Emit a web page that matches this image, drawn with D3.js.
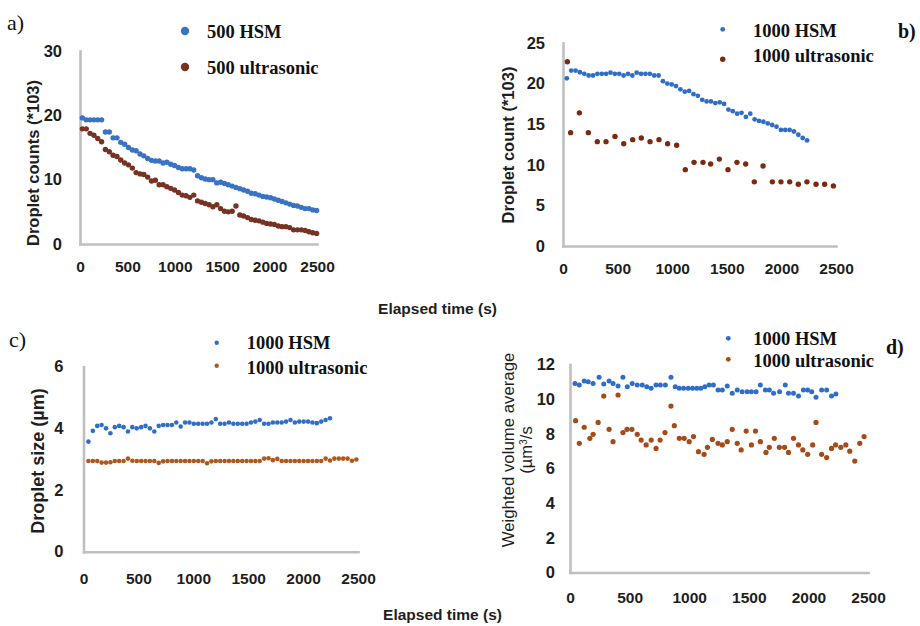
<!DOCTYPE html>
<html><head><meta charset="utf-8">
<script src="https://cdn.jsdelivr.net/npm/d3@7"></script>
<style>body{margin:0;background:#fff}svg{display:block}</style>
</head><body><svg id="chart" width="920" height="626"></svg>
<script>
// ---------- data ----------
const xTicks = [0, 500, 1000, 1500, 2000, 2500];

// panel a
const aTime = [25,66,106,147,187,228,268,309,349,390,430,471,511,552,592,633,673,714,754,795,835,876,916,957,997,1038,1078,1119,1159,1200,1240,1281,1321,1362,1402,1443,1483,1524,1564,1605,1645,1686,1726,1767,1807,1848,1888,1929,1969,2010,2050,2091,2131,2172,2212,2253,2293,2334,2374,2415,2455,2496];
const aHSM = [19.6,19.3,19.3,19.3,19.3,19.3,17.4,17.4,16.5,16.5,
  15.8,15.5,15.0,14.6,14.5,14.0,13.7,13.3,13.0,12.9,
  12.9,12.6,12.7,12.4,12.2,11.9,11.7,11.7,11.7,11.5,
  10.6,10.3,10.1,10.0,10.0,9.5,9.6,9.4,9.2,9.0,
  8.8,8.6,8.4,8.2,7.9,7.8,7.6,7.4,7.3,7.2,
  7.0,6.8,6.6,6.4,6.2,6.0,5.9,5.7,5.5,5.5,5.3,5.2];
const aUltra = [17.9,17.9,17.2,16.9,16.4,15.9,14.7,14.35,13.8,13.6,
  13.05,12.6,12.3,11.8,11.1,10.9,10.8,10.4,9.8,9.9,
  9.2,9.2,8.9,8.65,8.4,8.0,7.6,7.5,7.25,7.6,
  6.7,6.5,6.3,6.1,5.8,6.1,5.5,5.1,5.0,5.1,
  5.9,4.5,4.35,4.1,3.8,3.7,3.6,3.4,3.2,3.1,
  3.05,2.8,2.7,2.7,2.55,2.2,2.2,2.2,2.1,1.9,1.75,1.65];
const aYTicks = [0, 10, 20, 30];

// panel b
const bHSMTime = [35,75,115,155,195,235,275,315,355,395,435,475,515,555,595,635,675,715,755,795,835,875,915,955,995,1035,1075,1115,1155,1195,1235,1275,1315,1355,1395,1435,1475,1515,1555,1595,1635,1675,1715,1755,1795,1835,1875,1915,1955,1995,2035,2075,2115,2155,2195,2235];
const bHSM = [20.65,21.6,21.6,21.4,21.2,21.0,21.0,21.2,21.2,21.2,
  21.35,21.2,21.2,21.0,21.2,21.0,21.35,21.2,21.2,21.2,
  21.0,21.0,20.3,20.0,19.9,19.7,19.3,19.0,19.1,18.7,
  18.5,18.0,17.8,17.8,17.6,17.7,17.5,16.8,16.6,16.3,
  16.4,15.9,16.3,15.6,15.4,15.3,15.1,14.9,14.7,14.3,
  14.3,14.3,14.1,13.7,13.3,13.0];
const bUltraTime = [40,70,150,232,314,394,476,556,638,717,797,879,958,1041,1120,1200,1282,1352,1432,1511,1593,1673,1752,1832,1917,1996,2076,2155,2234,2317,2396,2476];
const bUltra = [22.7,13.96,16.4,13.96,12.85,12.85,13.5,12.6,13.1,13.3,
  12.85,13.1,12.6,12.4,9.4,10.3,10.3,10.1,10.7,9.4,
  10.3,10.1,7.9,9.85,7.9,7.9,7.9,7.6,7.9,7.6,7.6,7.4];
const bYTicks = [0, 5, 10, 15, 20, 25];

// panel c
const cHSMTime = [45,85,125,165,205,245,285,325,365,405,445,485,525,565,605,645,685,725,765,805,845,885,925,965,1005,1045,1085,1125,1165,1205,1245,1285,1325,1365,1405,1445,1485,1525,1565,1605,1645,1685,1725,1765,1805,1845,1885,1925,1965,2005,2045,2085,2125,2165,2205,2245];
const cHSM = [3.57,3.92,4.08,4.11,4.00,3.84,4.04,4.08,4.04,3.90,
  4.04,4.00,4.04,4.08,4.00,3.90,4.08,4.11,4.11,4.11,
  4.19,4.06,4.19,4.19,4.15,4.15,4.15,4.15,4.19,4.30,
  4.15,4.15,4.19,4.15,4.15,4.15,4.15,4.19,4.22,4.27,
  4.15,4.15,4.19,4.19,4.19,4.22,4.27,4.19,4.22,4.22,
  4.22,4.19,4.17,4.22,4.27,4.33];
const cUltraTime = [45,85,125,165,205,245,285,325,365,405,445,485,525,565,605,645,685,725,765,805,845,885,925,965,1005,1045,1085,1125,1165,1205,1245,1285,1325,1365,1405,1445,1485,1525,1565,1605,1645,1685,1725,1765,1805,1845,1885,1925,1965,2005,2045,2085,2125,2165,2205,2245,2285,2325,2365,2405,2445,2485];
const cUltra = [2.94,2.94,2.94,2.89,2.89,2.90,2.94,2.94,2.94,3.02,
  2.95,2.94,2.94,2.94,2.94,2.94,2.88,2.93,2.94,2.94,
  2.94,2.94,2.94,2.94,2.94,2.94,2.94,2.87,2.93,2.94,
  2.94,2.94,2.94,2.94,2.94,2.94,2.94,2.94,2.94,2.94,
  3.02,3.03,2.97,3.01,2.94,2.94,2.94,2.94,2.94,2.94,
  2.94,2.94,2.94,2.94,3.02,2.96,3.02,3.02,3.02,3.02,
  2.95,2.99];
const cYTicks = [0, 2, 4, 6];

// panel d
const dHSMTime = [42,78,119,153,194,244,283,328,361,403,444,481,522,564,606,644,681,722,758,800,847,883,917,953,992,1028,1064,1097,1131,1167,1203,1242,1278,1319,1361,1403,1444,1486,1522,1561,1597,1639,1672,1708,1758,1806,1833,1875,1917,1958,1994,2028,2064,2111,2153,2194,2231];
const dHSM = [10.91,10.82,11.05,11.01,10.91,11.26,10.88,11.05,10.91,10.76,
  11.26,10.72,10.91,10.82,10.82,10.72,10.63,10.82,10.82,10.82,
  11.26,10.72,10.63,10.63,10.63,10.63,10.63,10.63,10.72,10.82,
  10.82,10.53,10.53,10.76,10.34,10.53,10.43,10.43,10.43,10.43,
  10.82,10.53,10.53,10.34,10.43,10.82,10.34,10.34,10.18,10.53,
  10.53,10.43,10.11,10.53,10.53,10.18,10.30];
const dUltraTime = [47,78,119,167,194,236,283,328,361,403,444,478,519,564,597,639,681,722,756,797,847,875,917,958,1000,1036,1078,1125,1153,1194,1242,1278,1319,1361,1403,1436,1478,1522,1556,1597,1644,1672,1714,1756,1800,1833,1875,1917,1953,1994,2036,2064,2111,2153,2194,2228,2272,2314,2347,2389,2431,2467];
const dUltra = [8.76,7.45,8.38,7.74,7.97,8.66,10.18,8.26,7.55,10.24,
  8.07,8.26,8.26,7.97,7.64,7.36,7.64,7.16,7.64,8.07,
  9.6,8.47,7.74,7.74,7.55,7.84,6.97,6.82,7.22,7.68,
  7.45,7.36,7.55,8.26,7.45,7.07,8.16,7.36,8.16,7.55,
  6.93,7.22,7.74,7.22,7.22,6.93,7.74,7.36,7.07,6.82,
  7.36,8.66,6.82,6.63,7.16,7.36,7.22,7.36,7.0,6.43,7.45,7.84];
const dYTicks = [0, 2, 4, 6, 8, 10, 12];

// ---------- drawing ----------
const svg = d3.select('#chart');
const SANS = '"Liberation Sans", Arial, sans-serif';
const SERIF = '"Liberation Serif", "Times New Roman", serif';
const BLUE = '#2f6ec8';

function panel(cfg) {
  const x = d3.scaleLinear().domain([0, 2500]).range(cfg.xr);
  const y = d3.scaleLinear().domain([0, cfg.yTicks[cfg.yTicks.length - 1]]).range(cfg.yr);
  const g = svg.append('g');

  const xa = g.append('g').attr('transform', `translate(0,${cfg.yr[0]})`)
    .call(d3.axisBottom(x).tickValues(xTicks).tickSize(0).tickSizeOuter(0)
      .tickPadding(cfg.xpad).tickFormat(d3.format('d')));
  const ya = g.append('g').attr('transform', `translate(${cfg.xr[0]},0)`)
    .call(d3.axisLeft(y).tickValues(cfg.yTicks).tickSize(0).tickSizeOuter(0)
      .tickPadding(cfg.ypad).tickFormat(d3.format('d')));
  xa.attr('font-size', 15.5);
  ya.attr('font-size', 16.5);
  [xa, ya].forEach(a => {
    a.attr('font-family', SANS).attr('font-weight', 'bold');
    a.select('.domain').attr('stroke', '#bfbfbf').attr('stroke-width', 2.6).attr('stroke-linecap', 'square');
    a.selectAll('text').attr('fill', '#1e1e1e');
  });

  cfg.series.forEach(s => {
    g.append('g').selectAll('circle').data(d3.zip(s.t, s.v)).join('circle')
      .attr('cx', d => x(d[0])).attr('cy', d => y(d[1]))
      .attr('r', s.r).attr('fill', s.color);
  });

  // y title
  g.append('text')
    .attr('transform', `translate(${cfg.ytitle.x},${cfg.ytitle.y}) rotate(-90)`)
    .attr('text-anchor', 'middle').attr('dy', '0.35em')
    .attr('font-family', SANS).attr('font-size', cfg.ytitle.size)
    .attr('font-weight', cfg.ytitle.weight || 'bold').attr('fill', '#1e1e1e')
    .text(cfg.ytitle.text);
  if (cfg.ytitle2) {
    g.append('text')
      .attr('transform', `translate(${cfg.ytitle2.x},${cfg.ytitle2.y}) rotate(-90)`)
      .attr('text-anchor', 'middle').attr('dy', '0.35em')
      .attr('font-family', SANS).attr('font-size', cfg.ytitle2.size)
      .attr('fill', '#1e1e1e')
      .html('(µm<tspan dy="-5" font-size="' + (cfg.ytitle2.size * 0.62) + '">3</tspan><tspan dy="5">/s</tspan>');
  }

  // legend
  cfg.legend.forEach(l => {
    g.append('circle').attr('cx', l.cx).attr('cy', l.cy).attr('r', l.r).attr('fill', l.color);
    g.append('text').attr('x', l.tx).attr('y', l.ty)
      .attr('font-family', SERIF).attr('font-weight', 'bold').attr('font-size', 18.5)
      .attr('fill', '#111').text(l.text);
  });

  // panel letter
  g.append('text').attr('x', cfg.letter.x).attr('y', cfg.letter.y)
    .attr('font-family', SERIF).attr('font-size', cfg.letter.size)
    .attr('font-weight', cfg.letter.weight).attr('fill', '#111').text(cfg.letter.text);
}

panel({
  xr: [80, 317], yr: [244, 51], yTicks: aYTicks, xpad: 17.4, ypad: 18,
  series: [
    { t: aTime, v: aHSM, r: 2.7, color: '#3a72c4' },
    { t: aTime, v: aUltra, r: 2.7, color: '#763222' }
  ],
  ytitle: { x: 33, y: 163, size: 16.5, text: 'Droplet counts (*103)' },
  legend: [
    { cx: 185, cy: 31, r: 4.2, color: '#3a72c4', tx: 207, ty: 37.5, text: '500 HSM' },
    { cx: 185, cy: 67, r: 4.2, color: '#763222', tx: 207, ty: 74, text: '500 ultrasonic' }
  ],
  letter: { x: 7, y: 30, size: 22, weight: 'normal', text: 'a)' }
});

panel({
  xr: [563, 836], yr: [246, 43], yTicks: bYTicks, xpad: 16.7, ypad: 18,
  series: [
    { t: bHSMTime, v: bHSM, r: 2.4, color: BLUE },
    { t: bUltraTime, v: bUltra, r: 2.7, color: '#7b2a10' }
  ],
  ytitle: { x: 508, y: 145, size: 16.5, text: 'Droplet count (*103)' },
  legend: [
    { cx: 722.7, cy: 29.3, r: 2.4, color: BLUE, tx: 753, ty: 36.7, text: '1000 HSM' },
    { cx: 722.7, cy: 59.3, r: 2.7, color: '#7b2a10', tx: 753, ty: 61.7, text: '1000 ultrasonic' }
  ],
  letter: { x: 898, y: 38, size: 20, weight: 'bold', text: 'b)' }
});

panel({
  xr: [83.5, 358], yr: [551.7, 366.7], yTicks: cYTicks, xpad: 21, ypad: 20,
  series: [
    { t: cHSMTime, v: cHSM, r: 2.3, color: BLUE },
    { t: cUltraTime, v: cUltra, r: 2.3, color: '#b0571c' }
  ],
  ytitle: { x: 38, y: 461, size: 18, text: 'Droplet size (µm)' },
  legend: [
    { cx: 216.7, cy: 342.7, r: 2.2, color: BLUE, tx: 246.7, ty: 349.3, text: '1000 HSM' },
    { cx: 216.7, cy: 365.7, r: 2.2, color: '#b0571c', tx: 246.7, ty: 374, text: '1000 ultrasonic' }
  ],
  letter: { x: 9, y: 347, size: 22, weight: 'normal', text: 'c)' }
});

panel({
  xr: [570, 868], yr: [572.5, 364.5], yTicks: dYTicks, xpad: 19, ypad: 15,
  series: [
    { t: dHSMTime, v: dHSM, r: 2.5, color: BLUE },
    { t: dUltraTime, v: dUltra, r: 2.6, color: '#a44b18' }
  ],
  ytitle: { x: 508, y: 450, size: 16.8, weight: 'normal', text: 'Weighted  volume average' },
  ytitle2: { x: 526.7, y: 450, size: 16.5 },
  legend: [
    { cx: 728.3, cy: 338.3, r: 2.4, color: BLUE, tx: 753.3, ty: 345, text: '1000 HSM' },
    { cx: 728.3, cy: 359.3, r: 2.4, color: '#a44b18', tx: 753.3, ty: 366.7, text: '1000 ultrasonic' }
  ],
  letter: { x: 886, y: 354, size: 20, weight: 'bold', text: 'd)' }
});

// shared x titles
[{ x: 437.5, y: 314 }, { x: 442.5, y: 620 }].forEach(p => {
  svg.append('text').attr('x', p.x).attr('y', p.y).attr('text-anchor', 'middle')
    .attr('font-family', SANS).attr('font-weight', 'bold').attr('font-size', 15.5)
    .attr('fill', '#1e1e1e').text('Elapsed time (s)');
});
</script></body></html>
